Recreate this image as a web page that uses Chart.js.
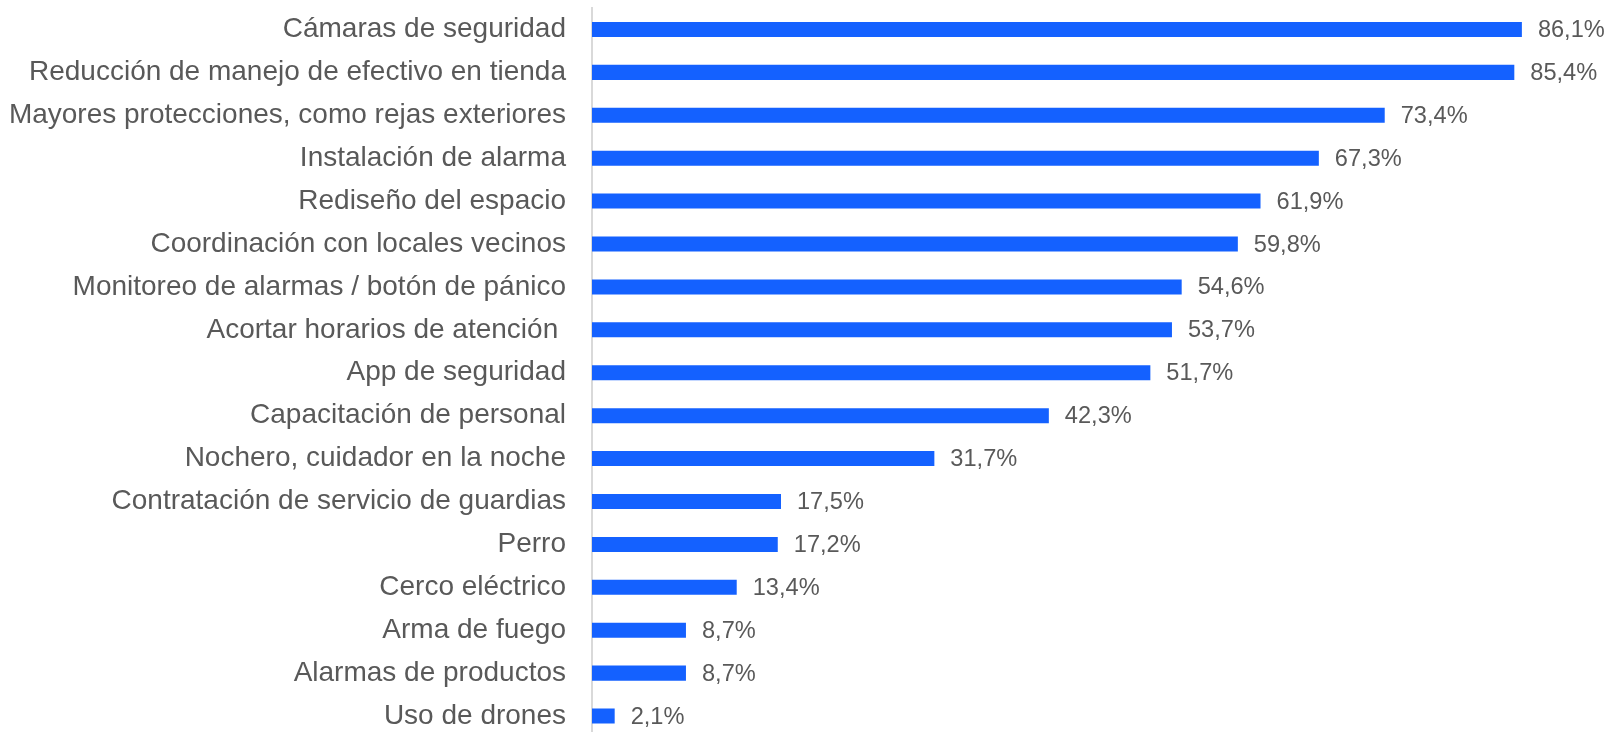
<!DOCTYPE html>
<html>
<head>
<meta charset="utf-8">
<script src="https://cdn.jsdelivr.net/npm/chart.js@4"></script>
<style>
  html, body { margin: 0; padding: 0; background: #ffffff; overflow: hidden; }
  canvas { display: block; }
</style>
</head>
<body>
<canvas id="c" width="1610" height="740"></canvas>
<script>
const categories = [
  "Cámaras de seguridad",
  "Reducción de manejo de efectivo en tienda",
  "Mayores protecciones, como rejas exteriores",
  "Instalación de alarma",
  "Rediseño del espacio",
  "Coordinación con locales vecinos",
  "Monitoreo de alarmas / botón de pánico",
  "Acortar horarios de atención ",
  "App de seguridad",
  "Capacitación de personal",
  "Nochero, cuidador en la noche",
  "Contratación de servicio de guardias",
  "Perro",
  "Cerco eléctrico",
  "Arma de fuego",
  "Alarmas de productos",
  "Uso de drones"
];
const values = [86.1, 85.4, 73.4, 67.3, 61.9, 59.8, 54.6, 53.7, 51.7, 42.3, 31.7, 17.5, 17.2, 13.4, 8.7, 8.7, 2.1];

const FONT = '"Liberation Sans", Arial, Helvetica, sans-serif';
const TEXT = '#595959';

const valueLabels = {
  id: 'valueLabels',
  afterDatasetsDraw(chart) {
    const ctx = chart.ctx;
    const meta = chart.getDatasetMeta(0);
    ctx.save();
    ctx.font = '23.6px ' + FONT;
    ctx.fillStyle = TEXT;
    ctx.textAlign = 'left';
    ctx.textBaseline = 'middle';
    meta.data.forEach((bar, i) => {
      const txt = values[i].toFixed(1).replace('.', ',') + '%';
      ctx.fillText(txt, bar.x + 16, bar.y + 1);
    });
    ctx.restore();
  }
};

new Chart(document.getElementById('c'), {
  type: 'bar',
  data: {
    labels: categories,
    datasets: [{
      data: values,
      backgroundColor: '#1461FF',
      borderWidth: 0,
      categoryPercentage: 1,
      barPercentage: 0.35
    }]
  },
  options: {
    indexAxis: 'y',
    responsive: false,
    animation: false,
    layout: { padding: { top: 8, bottom: 2.5, left: 0, right: 46 } },
    plugins: { legend: { display: false }, tooltip: { enabled: false } },
    scales: {
      x: {
        display: false,
        min: 0,
        max: 90
      },
      y: {
        afterFit(scale) {
          scale.width = 592;
          scale.paddingTop = 0;
          scale.paddingBottom = 0;
        },
        grid: { display: false, drawTicks: false },
        border: { display: true, color: '#D9D9D9', width: 2 },
        ticks: {
          color: TEXT,
          padding: 26,
          font: { family: FONT, size: 28 }
        }
      }
    }
  },
  plugins: [valueLabels]
});
</script>
</body>
</html>
